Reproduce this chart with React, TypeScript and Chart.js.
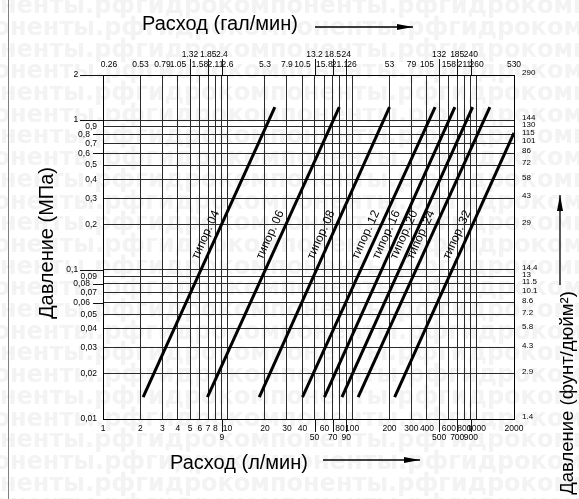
import React, { useEffect, useRef } from 'react';
import { Chart, registerables } from 'chart.js';
Chart.register(...registerables);

// ---- data ----
const flowTicks = [1, 2, 3, 4, 5, 6, 7, 8, 9, 10, 20, 30, 40, 50, 60, 70, 80, 90, 100, 200, 300, 400, 500, 600, 700, 800, 900, 1000, 2000];
const flowLabels = ['1', '2', '3', '4', '5', '6', '7', '8', '9', '10', '20', '30', '40', '50', '60', '70', '80', '90', '100', '200', '300', '400', '500', '600', '700', '800', '900', '1000', '2000'];
const flowLowerRow = [9, 50, 70, 90, 500, 700, 900];
const galLabels = ['0.26', '0.53', '0.79', '1.05', '1.32', '1.58', '1.85', '2.11', '2.4', '2.6', '5.3', '7.9', '10.5', '13.2', '15.8', '18.5', '21.1', '24', '26', '53', '79', '105', '132', '158', '185', '211', '240', '260', '530'];
const galUpperRow = [5, 7, 9, 50, 70, 90, 500, 700, 900];
const pressTicks = [0.01, 0.02, 0.03, 0.04, 0.05, 0.06, 0.07, 0.08, 0.09, 0.1, 0.2, 0.3, 0.4, 0.5, 0.6, 0.7, 0.8, 0.9, 1, 2];
const mpaLabels = ['0,01', '0,02', '0,03', '0,04', '0,05', '0,06', '0,07', '0,08', '0,09', '0,1', '0,2', '0,3', '0,4', '0,5', '0,6', '0,7', '0,8', '0,9', '1', '2'];
const psiLabels = ['1.4', '2.9', '4.3', '5.8', '7.2', '8.6', '10.1', '11.5', '13', '14.4', '29', '43', '58', '72', '86', '101', '115', '130', '144', '290'];
const longTicks = [2, 1, 0.1];
const shortTicks = [0.8, 0.6, 0.08, 0.06];

const types = ['04', '06', '08', '12', '16', '20', '24', '32'];
const flowStart = [2.1, 6.9, 18, 40, 60, 83, 112, 220];
const pressStart = [0.014, 0.014, 0.014, 0.014, 0.014, 0.014, 0.014, 0.014];
const flowEnd = [24, 79, 200, 465, 670, 930, 1280, 2000];
const pressEnd = [1.22, 1.22, 1.22, 1.22, 1.22, 1.22, 1.22, 0.82];
const labelPressure = 0.16;

const FONT = '"Liberation Sans", Arial, sans-serif';

function drawArrow(ctx: CanvasRenderingContext2D, x1: number, y1: number, x2: number, y2: number) {
  ctx.beginPath();
  ctx.moveTo(x1, y1);
  ctx.lineTo(x2, y2);
  ctx.stroke();
  const a = Math.atan2(y2 - y1, x2 - x1);
  const L = 16, W = 3;
  ctx.beginPath();
  ctx.moveTo(x2, y2);
  ctx.lineTo(x2 - L * Math.cos(a) + W * Math.sin(a), y2 - L * Math.sin(a) - W * Math.cos(a));
  ctx.lineTo(x2 - L * Math.cos(a) - W * Math.sin(a), y2 - L * Math.sin(a) + W * Math.cos(a));
  ctx.closePath();
  ctx.fill();
}

const backgroundPlugin = {
  id: 'bgWatermark',
  beforeDraw(chart: any) {
    const ctx = chart.ctx as CanvasRenderingContext2D;
    ctx.save();
    ctx.fillStyle = '#ffffff';
    ctx.fillRect(0, 0, chart.width, chart.height);
    ctx.font = 'bold 24px "DejaVu Sans", sans-serif';
    ctx.fillStyle = '#f3f3f3';
    ctx.textBaseline = 'middle';
    const s = 'гидрокомпоненты.рф';
    const w = ctx.measureText(s).width;
    const pre = ctx.measureText('гидрокомпо').width;
    for (let r = 0; r < 25; r++) {
      const y = 7 + r * 21.7;
      const off = -pre + (r % 2 === 0 ? 0 : 10);
      for (let x = off; x < chart.width; x += w) ctx.fillText(s, x, y);
    }
    ctx.restore();
  },
};

const decorPlugin = {
  id: 'decor',
  afterDatasetsDraw(chart: any) {
    const ctx = chart.ctx as CanvasRenderingContext2D;
    const xs = chart.scales.x;
    const ys = chart.scales.y;
    const area = chart.chartArea;
    ctx.save();
    // line labels
    ctx.font = `12px ${FONT}`;
    ctx.fillStyle = '#000';
    ctx.textAlign = 'center';
    ctx.textBaseline = 'middle';
    chart.data.datasets.forEach((ds: any, i: number) => {
      const p0 = ds.data[0], p1 = ds.data[1];
      const x0 = xs.getPixelForValue(p0.x), y0 = ys.getPixelForValue(p0.y);
      const x1 = xs.getPixelForValue(p1.x), y1 = ys.getPixelForValue(p1.y);
      const yl = ys.getPixelForValue(labelPressure);
      const t = (yl - y0) / (y1 - y0);
      const xl = x0 + t * (x1 - x0);
      const ang = Math.atan2(y1 - y0, x1 - x0);
      ctx.save();
      ctx.translate(xl, yl);
      ctx.rotate(ang);
      ctx.fillText('типор. ' + types[i], 0, -10);
      ctx.restore();
    });
    // extended tick marks
    ctx.strokeStyle = '#111';
    ctx.lineWidth = 1;
    const vline = (x: number, ya: number, yb: number) => {
      const px = Math.round(x) + 0.5;
      ctx.beginPath();
      ctx.moveTo(px, ya);
      ctx.lineTo(px, yb);
      ctx.stroke();
    };
    const hline = (y: number, xa: number, xb: number) => {
      const py = Math.round(y) + 0.5;
      ctx.beginPath();
      ctx.moveTo(xa, py);
      ctx.lineTo(xb, py);
      ctx.stroke();
    };
    galUpperRow.forEach((v) => vline(xs.getPixelForValue(v), area.top, area.top - 16));
    flowLowerRow.forEach((v) => vline(xs.getPixelForValue(v), area.bottom, area.bottom + 13));
    longTicks.forEach((v) => hline(ys.getPixelForValue(v), area.left - 23, area.left));
    shortTicks.forEach((v) => hline(ys.getPixelForValue(v), area.left - 10, area.left));
    ctx.restore();
  },
  afterDraw(chart: any) {
    const ctx = chart.ctx as CanvasRenderingContext2D;
    ctx.save();
    // page border line at left
    ctx.strokeStyle = '#808080';
    ctx.lineWidth = 1;
    ctx.beginPath();
    ctx.moveTo(8.5, 0);
    ctx.lineTo(8.5, chart.height);
    ctx.stroke();

    ctx.fillStyle = '#000';
    ctx.strokeStyle = '#000';
    ctx.lineWidth = 1.3;
    ctx.font = `20px ${FONT}`;
    ctx.textBaseline = 'alphabetic';
    ctx.textAlign = 'left';
    ctx.fillText('Расход (гал/мин)', 142, 30);
    drawArrow(ctx, 315, 27, 413, 27);
    ctx.fillText('Расход (л/мин)', 170, 469);
    drawArrow(ctx, 323, 460, 420, 460);

    ctx.textAlign = 'center';
    ctx.textBaseline = 'middle';
    ctx.save();
    ctx.translate(47, 243);
    ctx.rotate(-Math.PI / 2);
    ctx.fillText('Давление (МПа)', 0, 0);
    ctx.restore();

    ctx.font = `18.5px ${FONT}`;
    ctx.save();
    ctx.translate(568, 393);
    ctx.rotate(-Math.PI / 2);
    ctx.fillText('Давление (фунт/дюйм²)', 0, 0);
    ctx.restore();
    drawArrow(ctx, 560, 285, 560, 195);
    ctx.restore();
  },
};

const setTicks = (vals: number[]) => (axis: any) => {
  axis.ticks = vals.map((v) => ({ value: v }));
};

export default function App() {
  const ref = useRef<HTMLCanvasElement | null>(null);
  useEffect(() => {
    if (!ref.current) return;
    const datasets = types.map((t, i) => ({
      label: 'типор. ' + t,
      data: [
        { x: flowStart[i], y: pressStart[i] },
        { x: flowEnd[i], y: pressEnd[i] },
      ],
      borderColor: '#000',
      borderWidth: 3,
      pointRadius: 0,
      fill: false,
      tension: 0,
    }));
    const gridColor = '#2a2a2a';
    const tickFont = { family: FONT, size: 8.5 };
    const chart = new Chart(ref.current, {
      type: 'line',
      data: { datasets },
      plugins: [backgroundPlugin, decorPlugin],
      options: {
        animation: false,
        responsive: false,
        devicePixelRatio: 1,
        layout: { padding: 0 },
        plugins: { legend: { display: false }, tooltip: { enabled: false }, title: { display: false } },
        scales: {
          x: {
            type: 'logarithmic',
            position: 'bottom',
            min: 1,
            max: 2000,
            afterBuildTicks: setTicks(flowTicks),
            afterFit: (s: any) => { s.height = 80; },
            grid: { color: gridColor, lineWidth: 1, drawTicks: false },
            border: { display: true, color: '#000', width: 1 },
            ticks: {
              autoSkip: false,
              maxRotation: 0,
              minRotation: 0,
              padding: 4.8,
              color: '#000',
              font: { ...tickFont, lineHeight: 9 / 8.5 },
              callback: (_v: any, i: number) => (flowLowerRow.includes(flowTicks[i]) ? ['', flowLabels[i]] : flowLabels[i]),
            },
          },
          x2: {
            type: 'logarithmic',
            position: 'top',
            min: 1,
            max: 2000,
            afterBuildTicks: setTicks(flowTicks),
            afterFit: (s: any) => { s.height = 75; },
            grid: { drawOnChartArea: false, drawTicks: false },
            border: { display: true, color: '#000', width: 1 },
            ticks: {
              autoSkip: false,
              maxRotation: 0,
              minRotation: 0,
              padding: 5.5,
              color: '#000',
              font: { ...tickFont, lineHeight: 10 / 8.5 },
              callback: (_v: any, i: number) => {
                const lab = i === 0 ? '     ' + galLabels[i] : galLabels[i];
                return galUpperRow.includes(flowTicks[i]) ? [lab, ''] : lab;
              },
            },
          },
          y: {
            type: 'logarithmic',
            position: 'left',
            min: 0.01,
            max: 2,
            afterBuildTicks: setTicks(pressTicks),
            afterFit: (s: any) => { s.width = 103; },
            grid: { color: gridColor, lineWidth: 1, drawTicks: false },
            border: { display: true, color: '#000', width: 1 },
            ticks: {
              autoSkip: false,
              padding: 6,
              color: '#000',
              font: tickFont,
              callback: (_v: any, i: number) => {
                const v = pressTicks[i];
                if (longTicks.includes(v)) return mpaLabels[i] + '        ';
                if (shortTicks.includes(v)) return mpaLabels[i] + '   ';
                return mpaLabels[i];
              },
            },
          },
          y2: {
            type: 'logarithmic',
            position: 'right',
            min: 0.01,
            max: 2,
            afterBuildTicks: setTicks(pressTicks),
            afterFit: (s: any) => { s.width = 65; },
            grid: { drawOnChartArea: false, drawTicks: false },
            border: { display: true, color: '#000', width: 1 },
            ticks: {
              autoSkip: false,
              padding: 8,
              labelOffset: -2,
              color: '#000',
              font: { family: FONT, size: 8 },
              callback: (_v: any, i: number) => psiLabels[i],
            },
          },
        },
      } as any,
    });
    return () => chart.destroy();
  }, []);
  return (
    <div style={{ position: 'absolute', left: 0, top: 0, width: 579, height: 499 }}>
      <canvas ref={ref} width={579} height={499} style={{ width: 579, height: 499, display: 'block' }} />
    </div>
  );
}
